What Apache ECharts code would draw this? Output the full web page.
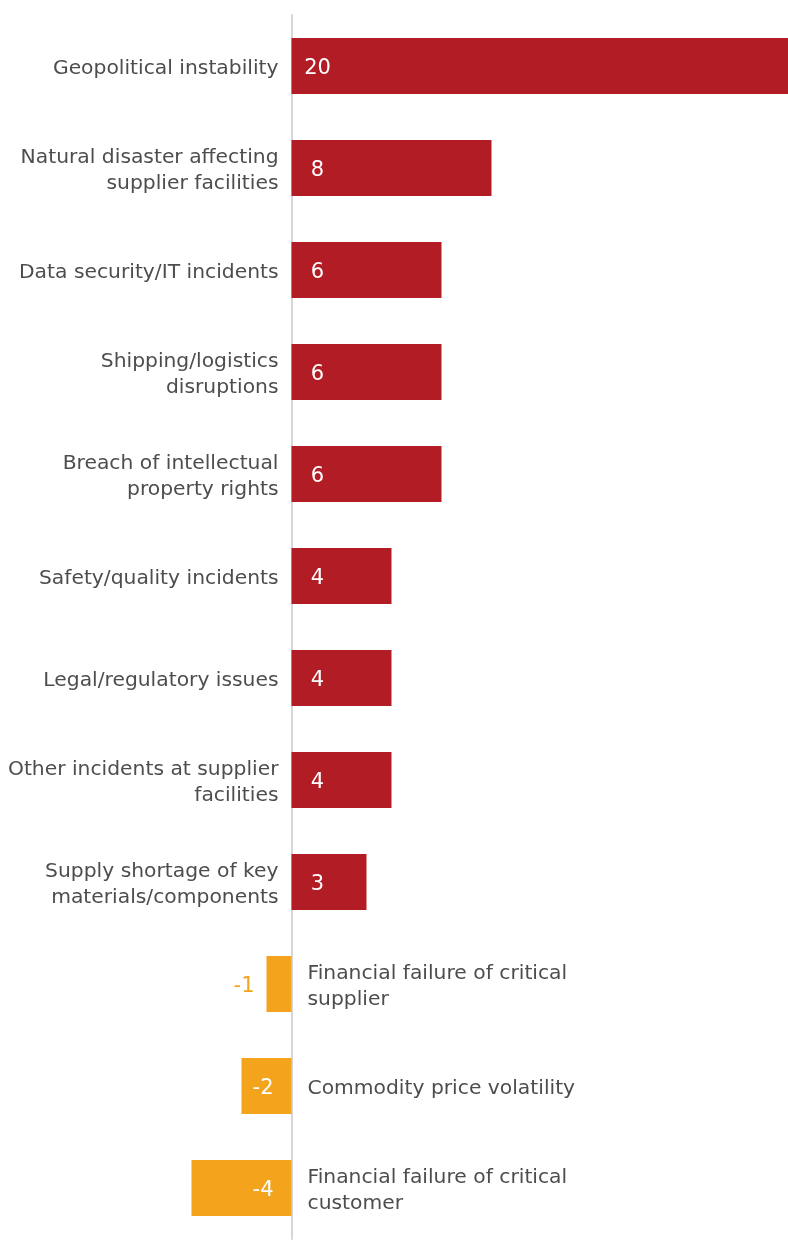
<!DOCTYPE html>
<html>
<head>
<meta charset="utf-8">
<script src="https://cdn.jsdelivr.net/npm/echarts@6/dist/echarts.min.js"></script>
<style>
  html, body { margin: 0; padding: 0; background: #fff; }
  #chart { width: 788px; height: 1242px; }
</style>
</head>
<body>
<div id="chart"></div>
<script>
// risk categories, top to bottom
const categories = [
  'Geopolitical instability',
  'Natural disaster affecting\nsupplier facilities',
  'Data security/IT incidents',
  'Shipping/logistics\ndisruptions',
  'Breach of intellectual\nproperty rights',
  'Safety/quality incidents',
  'Legal/regulatory issues',
  'Other incidents at supplier\nfacilities',
  'Supply shortage of key\nmaterials/components',
  'Financial failure of critical\nsupplier',
  'Commodity price volatility',
  'Financial failure of critical\ncustomer'
];
const values = [20, 8, 6, 6, 6, 4, 4, 4, 3, -1, -2, -4];

const RED = '#b21c24';
const ORANGE = '#f4a41c';
const FONT = 'DejaVu Sans';

const chart = echarts.init(document.getElementById('chart'));

// bars with the value inside (or beside for the small negative one)
const valueData = values.map(v => {
  let label;
  if (v > 0) {
    label = { position: [26, '50%'], align: 'center', verticalAlign: 'middle', color: '#fff' };
  } else if (v > -2) {
    label = { position: 'left', distance: 12, color: ORANGE };
  } else {
    label = { position: 'insideRight', distance: 18, color: '#fff' };
  }
  return { value: v, itemStyle: { color: v > 0 ? RED : ORANGE }, label: label };
});

// invisible twin bars that carry the category names
const nameData = values.map((v, i) => ({
  value: v,
  label: {
    formatter: categories[i],
    position: v > 0 ? 'left' : 'right',
    distance: v > 0 ? 13 : 16
  }
}));

const option = {
  animation: false,
  grid: { left: 0, right: 0, top: 15, bottom: 3 },
  xAxis: {
    type: 'value',
    min: -11.66,
    max: 19.86,
    show: false
  },
  yAxis: {
    type: 'category',
    inverse: true,
    data: categories,
    axisLine: { show: true, onZero: true, lineStyle: { color: '#d6d6d6', width: 2 } },
    axisTick: { show: false },
    axisLabel: { show: false }
  },
  series: [
    {
      name: 'names',
      type: 'bar',
      barWidth: 56,
      itemStyle: { color: 'rgba(0,0,0,0)' },
      label: {
        show: true,
        color: '#4d4d4d',
        fontFamily: FONT,
        fontSize: 20.3,
        lineHeight: 26,
        offset: [0, 3]
      },
      data: nameData
    },
    {
      name: 'values',
      type: 'bar',
      barWidth: 56,
      barGap: '-100%',
      label: {
        show: true,
        fontFamily: FONT,
        fontSize: 21,
        offset: [0, 3]
      },
      data: valueData
    }
  ]
};

chart.setOption(option);
</script>
</body>
</html>
